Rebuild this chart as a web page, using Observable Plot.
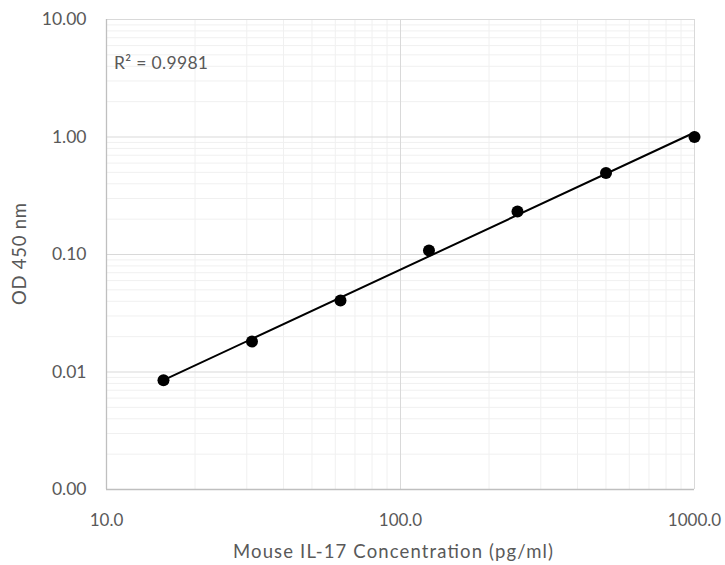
<!DOCTYPE html>
<html>
<head>
<meta charset="utf-8">
<script src="https://cdn.jsdelivr.net/npm/d3@7"></script>
<script src="https://cdn.jsdelivr.net/npm/@observablehq/plot@0.6"></script>
<style>
  html, body { margin: 0; padding: 0; background: #fff; }
  #chart svg { display: block; font-family: Lato, "Open Sans", sans-serif; }
</style>
</head>
<body>
<div id="chart"></div>
<script>
// Data
const concentration = [15.625, 31.25, 62.5, 125, 250, 500, 1000];
const od450 = [0.0085, 0.0182, 0.0406, 0.108, 0.232, 0.495, 1.0];
const xTickValues = [10, 100, 1000];
const yTickValues = [0.001, 0.01, 0.1, 1, 10];
const rSquaredLabel = "R\u00B2 = 0.9981";
const xTitle = "Mouse IL-17 Concentration (pg/ml)";
const yTitle = "OD 450 nm";

const data = concentration.map((c, i) => ({c, od: od450[i]}));

// minor gridlines: 2..9 within each decade
const mult = [2, 3, 4, 5, 6, 7, 8, 9];
const xMinor = xTickValues.slice(0, -1).flatMap(d => mult.map(m => d * m));
const yMinor = yTickValues.slice(0, -1).flatMap(d => mult.map(m => d * m));

// power trendline (least squares in log-log space)
const lx = data.map(d => Math.log10(d.c)), ly = data.map(d => Math.log10(d.od));
const mx = d3.mean(lx), my = d3.mean(ly);
const slope = d3.sum(lx, (v, i) => (v - mx) * (ly[i] - my)) / d3.sum(lx, v => (v - mx) ** 2);
const intercept = my - slope * mx;
const [cmin, cmax] = d3.extent(concentration);
const fit = [cmin, cmax].map(c => ({c, od: Math.pow(10, intercept + slope * Math.log10(c))}));

const W = 725, H = 565;
const textColor = "#595959";

const chart = Plot.plot({
  width: W,
  height: H,
  marginLeft: 106,
  marginRight: 31,
  marginTop: 19,
  marginBottom: 76,
  x: {type: "log", domain: [10, 1000]},
  y: {type: "log", domain: [0.001, 10]},
  marks: [
    Plot.ruleX(xMinor, {stroke: "#f0f0f0", strokeWidth: 1}),
    Plot.ruleY(yMinor, {stroke: "#f0f0f0", strokeWidth: 1}),
    Plot.ruleX(xTickValues, {stroke: "#d9d9d9", strokeWidth: 1}),
    Plot.ruleY(yTickValues, {stroke: "#d9d9d9", strokeWidth: 1}),
    Plot.ruleX([xTickValues[0]], {stroke: "#bfbfbf", strokeWidth: 1.3}),
    Plot.ruleY([yTickValues[0]], {stroke: "#bfbfbf", strokeWidth: 1.3}),
    Plot.line(fit, {x: "c", y: "od", stroke: "#000", strokeWidth: 2}),
    Plot.dot(data, {x: "c", y: "od", r: 6, fill: "#000", stroke: "none"}),
    Plot.axisX({ticks: xTickValues, tickFormat: d => d.toFixed(1), tickSize: 0, tickPadding: 24, label: null, fontSize: 17, fill: textColor}),
    Plot.axisY({ticks: yTickValues, tickFormat: d => d.toFixed(2), tickSize: 0, tickPadding: 20, label: null, fontSize: 17.5, fill: textColor})
  ]
});

document.getElementById("chart").appendChild(chart);

const svg = d3.select(chart);
svg.append("text")
  .attr("x", 114).attr("y", 63)
  .attr("dy", "0.35em")
  .attr("text-anchor", "start")
  .attr("fill", textColor)
  .attr("font-size", 17.5)
  .attr("textLength", 94)
  .attr("lengthAdjust", "spacing")
  .text(rSquaredLabel);
svg.append("text")
  .attr("x", 393).attr("y", 552)
  .attr("dy", "0.35em")
  .attr("text-anchor", "middle")
  .attr("fill", textColor)
  .attr("font-size", 18.5)
  .attr("textLength", 320)
  .attr("lengthAdjust", "spacing")
  .text(xTitle);
svg.append("text")
  .attr("transform", "translate(20,254) rotate(-90)")
  .attr("dy", "0.35em")
  .attr("text-anchor", "middle")
  .attr("fill", textColor)
  .attr("font-size", 18.5)
  .attr("textLength", 102)
  .attr("lengthAdjust", "spacing")
  .text(yTitle);
</script>
</body>
</html>
